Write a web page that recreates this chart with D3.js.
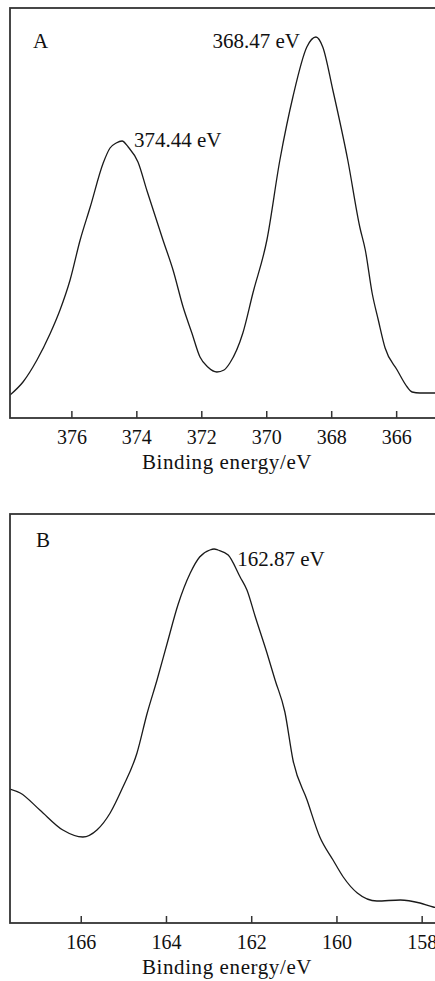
<!DOCTYPE html>
<html lang="en">
<head>
    <meta charset="UTF-8" />
    <title>XPS spectra</title>
    <script src="https://d3js.org/d3.v7.min.js"></script>
    <style>
        body { margin: 0; background: #fff; }
        svg text { font-family: "Liberation Serif", "Times New Roman", serif; fill: #111; }
    </style>
</head>
<body>
<div id="my_chart"></div>
<script>
    // Panel A: binding energy (eV) and intensity (a.u.)
    const energyA = [377.89, 377.49, 377.06, 376.66, 376.35, 376.04, 375.73, 375.42, 375.02, 374.81,
        374.62, 374.44, 374.25, 373.95, 373.67, 373.18, 372.87, 372.56, 372.29, 372.04,
        371.80, 371.52, 371.30, 371.12, 370.72, 370.41, 369.98, 369.58, 369.37, 369.18,
        368.75, 368.47, 368.26, 367.95, 367.49, 367.12, 366.95, 366.74, 366.55, 366.34,
        365.97, 365.66, 365.51, 365.27, 364.65];
    const intensityA = [23, 36, 58, 84, 108, 138, 178, 211, 255, 270,
        275, 277, 271, 256, 227, 178, 148, 111, 85, 61,
        51, 46, 48, 55, 85, 125, 178, 258, 293, 321,
        371, 381, 371, 328, 258, 191, 168, 125, 98, 70,
        48, 31, 26, 25, 25];
    const ticksA = [376, 374, 372, 370, 368, 366];
    const peaksA = [374.44, 368.47];

    // Panel B
    const energyB = [167.66, 167.42, 166.96, 166.42, 165.95, 165.62, 165.31, 165.01, 164.68, 164.44,
        164.21, 163.97, 163.72, 163.43, 163.21, 162.97, 162.87, 162.78, 162.54, 162.26,
        162.10, 161.91, 161.63, 161.44, 161.21, 161.02, 160.69, 160.39, 160.08, 159.84,
        159.51, 159.05, 158.50, 158.04, 157.73, 157.57];
    const intensityB = [134, 130, 113, 93, 86, 93, 110, 136, 170, 210,
        243, 280, 318, 350, 366, 373, 374, 373, 368, 346,
        333, 307, 270, 243, 211, 163, 123, 86, 63, 46,
        30, 22, 23, 20, 16, 15];
    const ticksB = [166, 164, 162, 160, 158];
    const peaksB = [162.87];

    const W = 435, H = 981;
    const svg = d3.select("#my_chart").append("svg")
        .attr("width", W).attr("height", H);

    const panels = [
        { id: "A", energy: energyA, intensity: intensityA, ticks: ticksA, peaks: peaksA,
          xdom: [377.89, 364.65], ydom: [0, 410], top: 8, bottom: 418,
          labelOffsets: [[12, 6, "start"], [-16, 11, "end"]], letter: [33, 48] },
        { id: "B", energy: energyB, intensity: intensityB, ticks: ticksB, peaks: peaksB,
          xdom: [167.66, 157.57], ydom: [0, 409], top: 514, bottom: 923,
          labelOffsets: [[23, 17, "start"]], letter: [36, 547] }
    ];

    const left = 10, right = 440;

    panels.forEach(p => {
        const data = p.energy.map((e, i) => ({ e: e, v: p.intensity[i] }));
        const x = d3.scaleLinear().domain(p.xdom).range([left, right]);
        const y = d3.scaleLinear().domain(p.ydom).range([p.bottom, p.top]);

        const g = svg.append("g");

        g.append("clipPath").attr("id", "clip" + p.id)
            .append("rect")
            .attr("x", left).attr("y", p.top)
            .attr("width", right - left).attr("height", p.bottom - p.top);

        // spectrum
        g.append("path")
            .datum(data)
            .attr("clip-path", "url(#clip" + p.id + ")")
            .attr("fill", "none")
            .attr("stroke", "#1a1a1a")
            .attr("stroke-width", 1.3)
            .attr("stroke-linejoin", "round")
            .attr("d", d3.line().curve(d3.curveMonotoneX)
                .x(d => x(d.e)).y(d => y(d.v)));

        // frame
        g.append("rect")
            .attr("x", left).attr("y", p.top)
            .attr("width", right - left).attr("height", p.bottom - p.top)
            .attr("fill", "none").attr("stroke", "#333").attr("stroke-width", 1.8);

        // x axis, ticks pointing inward
        const ax = g.append("g")
            .attr("transform", `translate(0,${p.bottom})`)
            .call(d3.axisBottom(x).tickValues(p.ticks).tickFormat(d3.format("d"))
                .tickSizeInner(-7).tickSizeOuter(0).tickPadding(12));
        ax.select(".domain").remove();
        ax.selectAll(".tick line").attr("stroke", "#333").attr("stroke-width", 1.5);
        ax.selectAll(".tick text").attr("font-size", 20).attr("fill", "#111");

        g.append("text")
            .attr("x", 227).attr("y", p.bottom + 51)
            .attr("text-anchor", "middle")
            .attr("font-size", 21)
            .attr("letter-spacing", 0.6)
            .text("Binding energy/eV");

        // panel letter
        g.append("text")
            .attr("x", p.letter[0]).attr("y", p.letter[1])
            .attr("font-size", 21)
            .text(p.id);

        // peak annotations
        p.peaks.forEach((pk, i) => {
            const idx = p.energy.indexOf(pk);
            const o = p.labelOffsets[i];
            g.append("text")
                .attr("x", x(pk) + o[0])
                .attr("y", y(p.intensity[idx]) + o[1])
                .attr("text-anchor", o[2])
                .attr("font-size", 21)
                .text(pk.toFixed(2) + " eV");
        });
    });
</script>
</body>
</html>
